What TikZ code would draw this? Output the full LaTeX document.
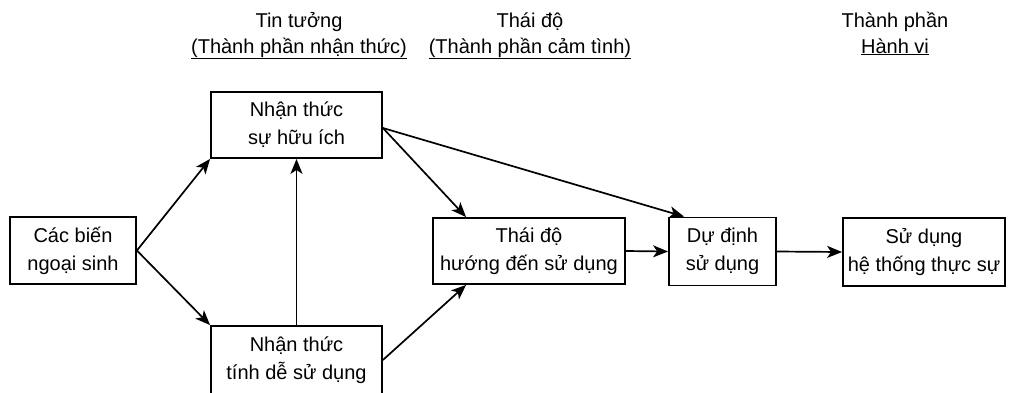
\documentclass[tikz,border=0pt]{standalone}
\usepackage{fontspec}
\setmainfont{Liberation Sans}
\usetikzlibrary{arrows.meta}
\begin{document}
\begin{tikzpicture}[x=1pt,y=-1pt,
  box/.style={draw,line width=1.8pt,inner sep=0pt,align=center,
    font=\fontsize{20}{28}\selectfont},
  head/.style={anchor=base,inner sep=0pt,font=\fontsize{20}{26}\selectfont},
  arr/.style={line width=1.7pt,-{Stealth[length=15pt,width=12pt,inset=4pt]}}]
\useasboundingbox (0,0) rectangle (1009,392);
% header labels
\node[head] (h1a) at (299,27) {Tin tưởng};
\node[head] (h1b) at (299,53) {\underline{(Thành phần nhận thức)}};
\node[head] (h2a) at (530,27) {Thái độ};
\node[head] (h2b) at (530,53) {\underline{(Thành phần cảm tình)}};
\node[head] (h3a) at (895,27) {Thành phần};
\node[head] (h3b) at (895,53) {\underline{Hành vi}};
% boxes
\node[box,minimum width=126pt,minimum height=67pt] (cb) at (73,250.5) {Các biến\\ngoại sinh};
\node[box,minimum width=171pt,minimum height=66pt] (pu) at (296.5,125) {Nhận thức\\sự hữu ích};
\node[box,minimum width=171pt,minimum height=68pt] (peou) at (296.5,360) {Nhận thức\\tính dễ sử dụng};
\node[box,minimum width=192pt,minimum height=66pt] (att) at (529,251) {Thái độ\\hướng đến sử dụng};
\node[box,minimum width=107pt,minimum height=68pt] (int) at (722.5,251.5) {Dự định\\sử dụng};
\node[box,minimum width=162pt,minimum height=68pt] (act) at (924,252) {Sử dụng\\hệ thống thực sự};
% connectors
\draw[arr] (cb.east) -- (pu.south west);
\draw[arr] (cb.east) -- (peou.north west);
\draw[arr] (peou.north) -- (pu.south);
\draw[arr] ([yshift=-3pt]pu.east) -- ([xshift=34pt]att.north west);
\draw[arr] ([yshift=-3pt]pu.east) -- ([xshift=16pt]int.north west);
\draw[arr] (peou.east) -- ([xshift=34pt]att.south west);
\draw[arr] (att.east) -- (int.west);
\draw[arr] (int.east) -- (act.west);
\end{tikzpicture}
\end{document}
